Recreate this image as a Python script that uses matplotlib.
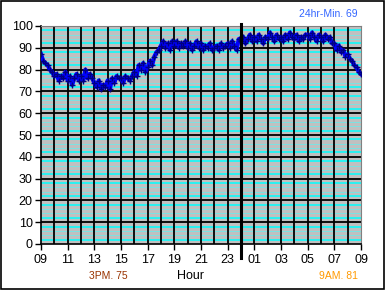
import numpy as np
import matplotlib
matplotlib.use("Agg")
import matplotlib.pyplot as plt
from matplotlib.patches import Rectangle
import matplotlib.transforms as mtransforms

plt.rcParams['font.family'] = ['Liberation Sans', 'DejaVu Sans']

# Temperature readings every 10 minutes from 09:00 to 09:00 next day
temps = [
    87, 84, 83, 82, 80, 79,   # 09
    77, 78, 75, 77, 76, 79,   # 10
    75, 77, 73, 76, 78, 75,   # 11
    77, 75, 80, 76, 78, 76,   # 12
    74, 72, 75, 71, 73, 72,   # 13
    75, 71, 76, 74, 77, 76,   # 14
    76, 74, 77, 76, 75, 77,   # 15
    79, 77, 82, 80, 83, 79,   # 16
    81, 84, 82, 86, 88, 89,   # 17
    91, 93, 90, 92, 89, 93,   # 18
    91, 93, 90, 92, 91, 93,   # 19
    90, 92, 89, 91, 93, 90,   # 20
    92, 89, 91, 90, 92, 89,   # 21
    90, 91, 89, 92, 90, 91,   # 22
    92, 90, 93, 91, 89, 94,   # 23
    93, 95, 92, 94, 96, 93,   # 00
    95, 93, 96, 94, 92, 95,   # 01
    94, 97, 95, 93, 96, 94,   # 02
    95, 93, 96, 94, 97, 95,   # 03
    94, 96, 93, 95, 94, 96,   # 04
    96, 94, 97, 95, 93, 96,   # 05
    95, 93, 96, 94, 95, 92,   # 06
    92, 89, 91, 88, 89, 86,   # 07
    87, 85, 84, 82, 81, 79,   # 08
    78,                       # 09
]
hour_ticks = [0, 2, 4, 6, 8, 10, 12, 14, 16, 18, 20, 22, 24]
hour_labels = ["09", "11", "13", "15", "17", "19", "21", "23", "01", "03", "05", "07", "09"]
y_ticks = [0, 10, 20, 30, 40, 50, 60, 70, 80, 90, 100]
midnight = 15
min_text = "24hr-Min. 69"
pm_text = "3PM. 75"
am_text = "9AM. 81"

x = np.arange(len(temps)) / 6.0

fig = plt.figure(figsize=(3.85, 2.9), dpi=100)
fig.patch.set_facecolor('white')
fig.add_artist(Rectangle((0.0015, 0.002), 0.996, 0.995, transform=fig.transFigure,
                         fill=False, edgecolor='black', linewidth=1.2))

ax = fig.add_axes([41/385, 46/290, 320/385, 218/290])
ax.set_facecolor('#C0C0C0')
ax.set_xlim(0, 24)
ax.set_ylim(0, 100)

# minor cyan grid
for v in range(0, 100, 2):
    if v % 10 == 0:
        continue
    if v % 10 in (2, 8):
        ax.axhline(v, color='#00FFFF', lw=1.1, zorder=1)
    else:
        ax.axhline(v, color='#70E8E8', lw=0.6, zorder=1)
for v in range(10, 100, 10):
    ax.axhline(v, color='black', lw=1.3, zorder=2)
for h in range(1, 24):
    ax.axvline(h, color='black', lw=1.3, zorder=2)

ax.plot(x, temps, color='#0000FF', lw=3.0, zorder=4,
        marker='+', markersize=5, markeredgecolor='#000080', markeredgewidth=1.0)

trans = mtransforms.blended_transform_factory(ax.transData, ax.transAxes)
ax.plot([midnight, midnight], [-0.065, 1.01], transform=trans, color='black', lw=2.2,
        clip_on=False, zorder=5)

for s in ['top', 'right']:
    ax.spines[s].set_color('#808080')
for s in ['left', 'bottom']:
    ax.spines[s].set_color('black')
    ax.spines[s].set_linewidth(1.2)

ax.set_yticks(y_ticks)
ax.set_xticks(hour_ticks)
ax.set_xticklabels(hour_labels)
ax.tick_params(axis='both', direction='out', length=4, width=1, labelsize=9, colors='black')
ax.tick_params(axis='x', pad=3)
ax.tick_params(axis='y', pad=2)

fig.text(190/385, 1 - 276/290, "Hour", ha='center', va='center', fontsize=9)
fig.text(108/385, 1 - 276/290, pm_text, ha='center', va='center', fontsize=7.5, color='#993300')
fig.text(358/385, 1 - 276/290, am_text, ha='right', va='center', fontsize=7.5, color='#FF9900')
fig.text(358/385, 1 - 14/290, min_text, ha='right', va='center', fontsize=7.5, color='#3366FF')

fig.savefig('out.png', dpi=100)
